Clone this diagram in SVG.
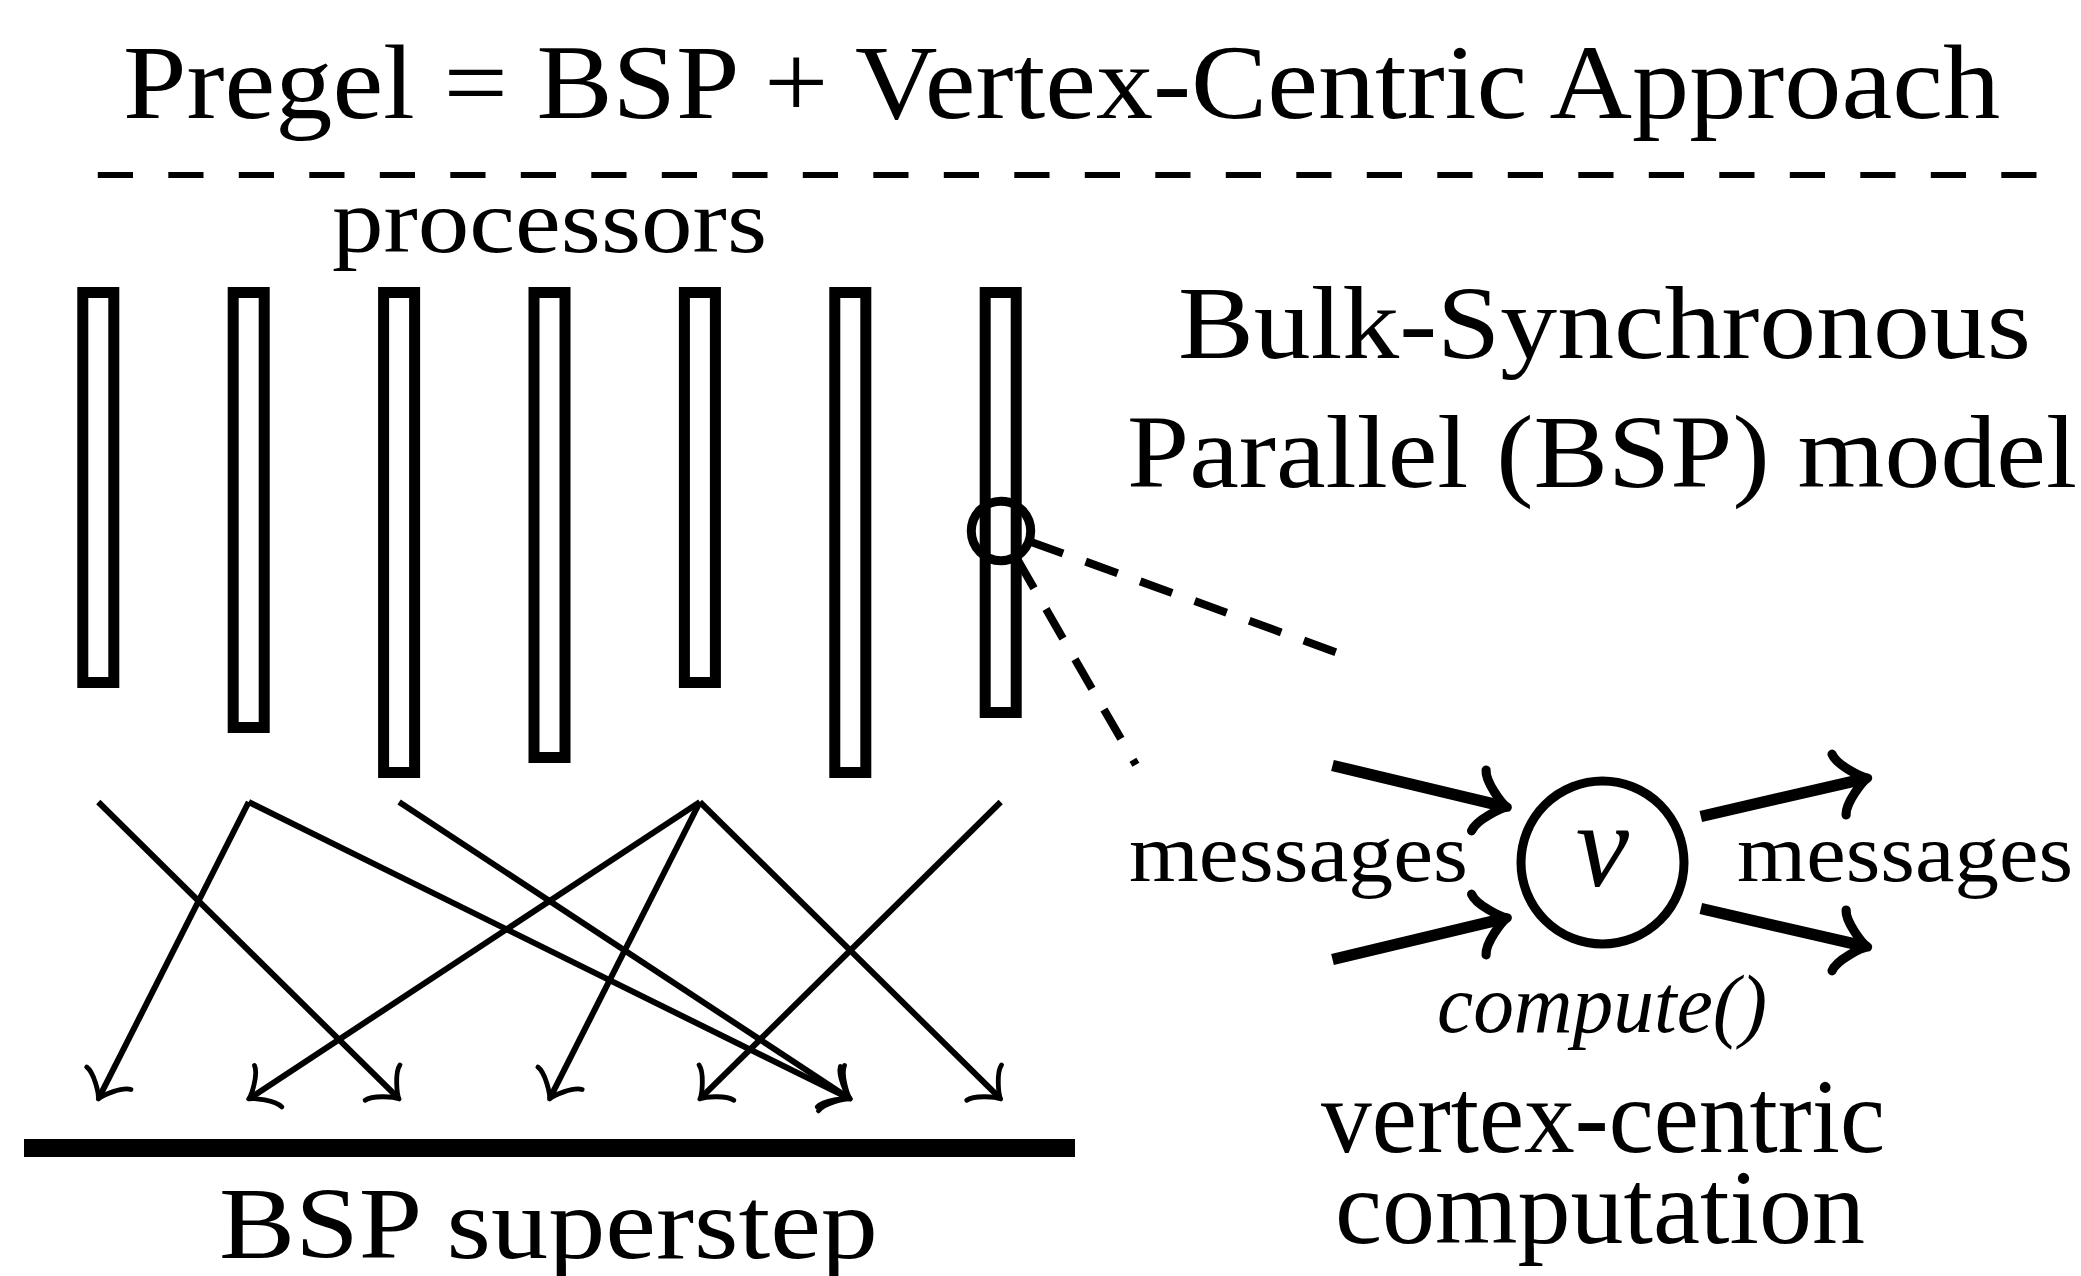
<svg xmlns="http://www.w3.org/2000/svg" width="2081" height="1276" viewBox="0 0 2081 1276">
<defs>
<style>
text { font-family: "Liberation Serif", "Times New Roman", serif; fill: #000; }
.proc { fill: #fff; stroke: #000; stroke-width: 11; }
.msg { stroke: #000; stroke-width: 6; fill: none; marker-end: url(#tip); }
.big { stroke: #000; stroke-width: 11.5; fill: none; marker-end: url(#bigtip); }
.zoomline { stroke: #000; stroke-width: 8; fill: none; stroke-dasharray: 34 24; }
</style>
<marker id="tip" markerUnits="userSpaceOnUse" orient="auto" refX="-4.65" refY="0" markerWidth="1" markerHeight="1" overflow="visible">
<path d="M-23.25,24.8 C-21.7,15.5 -4.65,1.55 0,0 C-4.65,-1.55 -21.7,-15.5 -23.25,-24.8" fill="none" stroke="#000" stroke-width="4.8" stroke-linecap="round" stroke-linejoin="round"/>
</marker>
<marker id="bigtip" markerUnits="userSpaceOnUse" orient="auto" refX="-5.85" refY="0" markerWidth="1" markerHeight="1" overflow="visible">
<path d="M-29.25,31.2 C-27.3,19.5 -5.85,1.95 0,0 C-5.85,-1.95 -27.3,-19.5 -29.25,-31.2" fill="none" stroke="#000" stroke-width="9.2" stroke-linecap="round" stroke-linejoin="round"/>
</marker>
</defs>
<rect x="0" y="0" width="2081" height="1276" fill="#fff"/>

<g id="title">
<text x="123" y="118" font-size="106" textLength="1877" lengthAdjust="spacingAndGlyphs">Pregel = BSP + Vertex-Centric Approach</text>
<line x1="97.8" y1="175" x2="2037.5" y2="175" stroke="#000" stroke-width="6" stroke-dasharray="35.2 35.3"/>
</g>

<g id="processors-label">
<text x="332" y="252" font-size="92" textLength="435" lengthAdjust="spacingAndGlyphs">processors</text>
</g>

<g id="p1"><rect class="proc" x="82.8" y="292.5" width="31" height="390"/></g>
<g id="p2"><rect class="proc" x="233.2" y="292.5" width="31" height="435"/></g>
<g id="p3"><rect class="proc" x="383.6" y="292.5" width="31" height="480"/></g>
<g id="p4"><rect class="proc" x="534" y="292.5" width="31" height="465"/></g>
<g id="p5"><rect class="proc" x="684.4" y="292.5" width="31" height="390"/></g>
<g id="p6"><rect class="proc" x="834.8" y="292.5" width="31" height="480"/></g>
<g id="p7"><rect class="proc" x="985.2" y="292.5" width="31" height="420"/></g>
<g id="p7-vertex"><circle cx="1001" cy="531" r="29.7" fill="none" stroke="#000" stroke-width="9"/></g>

<g id="bsp-label">
<text x="1178" y="358" font-size="103" textLength="853" lengthAdjust="spacingAndGlyphs">Bulk-Synchronous</text>
<text x="1127" y="487" font-size="103" textLength="950" lengthAdjust="spacingAndGlyphs">Parallel (BSP) model</text>
</g>

<g id="barrier">
<rect x="24" y="1139" width="1051" height="18" fill="#000"/>
<text x="219" y="1258" font-size="102" textLength="659" lengthAdjust="spacingAndGlyphs">BSP superstep</text>
</g>

<g id="vertex">
<circle cx="1602.5" cy="862.5" r="81.5" fill="none" stroke="#000" stroke-width="9"/>
<text x="1602.5" y="886" font-size="120" font-style="italic" text-anchor="middle">v</text>
<text x="1437" y="1032" font-size="82" font-style="italic" textLength="330" lengthAdjust="spacingAndGlyphs">compute()</text>
</g>

<g id="messages-labels">
<text x="1129" y="881" font-size="82" textLength="339" lengthAdjust="spacingAndGlyphs">messages</text>
<text x="1737" y="881" font-size="82" textLength="336" lengthAdjust="spacingAndGlyphs">messages</text>
</g>

<g id="vc-label">
<text x="1321" y="1152" font-size="106" textLength="564" lengthAdjust="spacingAndGlyphs">vertex-centric</text>
<text x="1335" y="1243" font-size="106" textLength="530" lengthAdjust="spacingAndGlyphs">computation</text>
</g>

<g id="connectors">
<line class="msg" x1="98.3" y1="802" x2="395.8" y2="1095.7"/>
<line class="msg" x1="248.7" y1="802" x2="100.4" y2="1094.85"/>
<line class="msg" x1="248.7" y1="802" x2="846.1" y2="1096.9"/>
<line class="msg" x1="399.1" y1="802" x2="846.4" y2="1096.4"/>
<line class="msg" x1="699.9" y1="802" x2="252.6" y2="1096.4"/>
<line class="msg" x1="699.9" y1="802" x2="551.6" y2="1094.85"/>
<line class="msg" x1="699.9" y1="802" x2="997.4" y2="1095.7"/>
<line class="msg" x1="1000.7" y1="802" x2="703.2" y2="1095.7"/>

<line class="zoomline" x1="1031.1" y1="541.9" x2="1337.6" y2="652.8"/>
<line class="zoomline" x1="1017.0" y1="558.7" x2="1135.9" y2="764.8"/>

<line class="big" x1="1332.5" y1="765.5" x2="1501.6" y2="805.9"/>
<line class="big" x1="1332.5" y1="959.5" x2="1501.6" y2="919.1"/>
<line class="big" x1="1700.8" y1="816.5" x2="1861.9" y2="779.3"/>
<line class="big" x1="1700.8" y1="908.5" x2="1861.9" y2="945.7"/>
</g>
</svg>
